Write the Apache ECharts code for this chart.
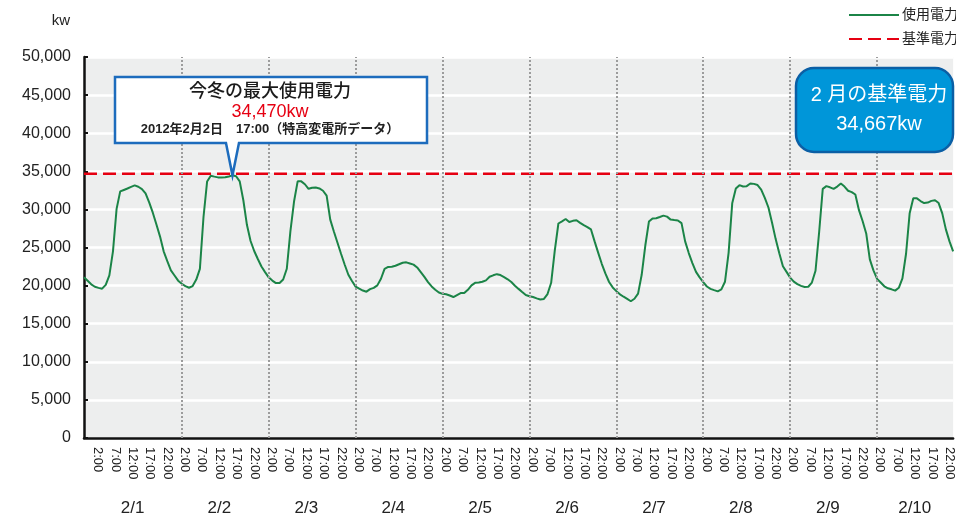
<!DOCTYPE html>
<html>
<head>
<meta charset="utf-8">
<script src="https://cdn.jsdelivr.net/npm/echarts@6/dist/echarts.min.js"></script>
<style>
  html, body { margin: 0; padding: 0; background: #ffffff; }
  #chart { width: 956px; height: 518px; }
</style>
</head>
<body>
<div id="chart"></div>
<script>
// ---- data -------------------------------------------------------------
// Hourly electricity use (kW), one value per hour starting 2/1 0:00
const usageKw = [
  21100, 20640, 20170, 19850, 19700, 19600, 20100, 21350, 24500, 30070, 32360, 32550,
  32740, 32960, 33150, 32970, 32670, 32100, 30930, 29570, 28020, 26430, 24500, 23200,
  22000, 21330, 20650, 20240, 19930, 19720, 19940, 20790, 22200, 29000, 33670, 34420,
  34300, 34200, 34200, 34210, 34320, 34470, 34350, 33680, 31200, 27950, 25850, 24540,
  23490, 22500, 21770, 21080, 20660, 20330, 20330, 20800, 22210, 27140, 31030, 33680,
  33680, 33300, 32700, 32850, 32880, 32750, 32450, 31800, 28660, 27100, 25620, 24140,
  22740, 21420, 20600, 19870, 19590, 19350, 19200, 19530, 19700, 20030, 20900, 22200,
  22450, 22470, 22600, 22800, 23000, 23050, 22900, 22750, 22380, 21770, 21140, 20450,
  19890, 19450, 19090, 18920, 18860, 18700, 18500, 18760, 19020, 19020, 19450, 20030,
  20360, 20420, 20500, 20690, 21160, 21350, 21500, 21380, 21120, 20830, 20470, 19990,
  19570, 19160, 18770, 18610, 18500, 18330, 18170, 18250, 18890, 20370, 24580, 28150,
  28440, 28740, 28350, 28500, 28570, 28230, 27930, 27680, 27370, 25800, 24300, 22830,
  21560, 20470, 19760, 19270, 18850, 18540, 18250, 17950, 18270, 18940, 21420, 25260,
  28400, 28820, 28840, 29000, 29180, 29050, 28660, 28600, 28550, 28200, 25800, 24270,
  22950, 21800, 21080, 20450, 19880, 19570, 19400, 19240, 19500, 20500, 24300, 30800,
  32730, 33180, 33000, 33050, 33400, 33350, 33200, 32600, 31500, 30250, 28250, 26100,
  24250, 22550, 21800, 21050, 20520, 20200, 19960, 19820, 19850, 20400, 21950, 27000,
  32700, 33050, 32900, 32700, 33000, 33400, 33000, 32450, 32270, 31950, 29900, 28480,
  26840, 23440, 22000, 20880, 20400, 19910, 19650, 19510, 19340, 19710, 20950, 24180,
  29500, 31460, 31450, 31100, 30830, 30900, 31120, 31200, 30830, 29480, 27380, 25800,
  24500
];

// February reference demand (kW)
const baseKw = 34667;

const dayLabels = ['2/1', '2/2', '2/3', '2/4', '2/5', '2/6', '2/7', '2/8', '2/9', '2/10'];
const hourLabels = ['2:00', '7:00', '12:00', '17:00', '22:00'];
const yTickValues = [0, 5000, 10000, 15000, 20000, 25000, 30000, 35000, 40000, 45000, 50000];

const seriesNames = ['使用電力', '基準電力'];
const peakTitle = '今冬の最大使用電力';
const peakNote = '2012年2月2日　17:00（特高変電所データ）';
const baseTitle = '2 月の基準電力';
const unitLabel = 'kw';

// ---- layout -----------------------------------------------------------
const HOURS_SHOWN = 240;            // x axis span in hours
const PX_PER_HOUR = 3.6525;
const DAY_SHIFT = 3;                // where each day's label block begins (hours)
const hourLabelPos = [0.8, 5.6, 10.4, 15.2, 20.0];
const dateLabelPos = 10.4;

const FONT = "'Liberation Sans', 'Noto Sans CJK JP', sans-serif";
const fmt = v => v.toLocaleString('en-US');

// positions (in hours) of the time-of-day labels and the date labels
const timeTickPos = [];
const timeTickText = {};
dayLabels.forEach((d, di) => {
  hourLabels.forEach((t, ti) => {
    const p = +(DAY_SHIFT + di * 24 + hourLabelPos[ti]).toFixed(2);
    timeTickPos.push(p);
    timeTickText[p.toFixed(2)] = t;
  });
});
const dateTickPos = [];
const dateTickText = {};
dayLabels.forEach((d, di) => {
  const p = +(DAY_SHIFT + di * 24 + dateLabelPos).toFixed(2);
  dateTickPos.push(p);
  dateTickText[p.toFixed(2)] = d;
});
// dotted separators between consecutive days
const dayBreaks = dayLabels.slice(1).map((d, i) => ({ xAxis: DAY_SHIFT + (i + 1) * 24 }));

const usageData = usageKw.map((v, h) => [h, v]);
const baseData = [[0, baseKw], [HOURS_SHOWN, baseKw]];

const chart = echarts.init(document.getElementById('chart'), null, { renderer: 'canvas' });

chart.setOption({
  animation: false,
  textStyle: { fontFamily: FONT },
  legend: {
    orient: 'vertical',
    left: 843,
    top: 3,
    itemWidth: 50,
    itemHeight: 14,
    itemGap: 10,
    itemStyle: { opacity: 0 },
    textStyle: { fontSize: 14, color: '#222', fontFamily: FONT, padding: [0, 0, 0, -2] },
    data: seriesNames
  },
  grid: {
    left: 84,
    top: 57,
    width: HOURS_SHOWN * PX_PER_HOUR,
    height: 381,
    show: true,
    backgroundColor: '#edeeee',
    borderWidth: 0
  },
  xAxis: [
    {
      type: 'value',
      min: 0,
      max: HOURS_SHOWN,
      position: 'bottom',
      axisLine: { show: true, onZero: false, lineStyle: { color: '#111', width: 2.5 } },
      axisTick: { show: false },
      splitLine: { show: false },
      axisLabel: {
        customValues: timeTickPos,
        rotate: -90,
        margin: 9,
        fontSize: 13,
        color: '#222',
        fontFamily: FONT,
        formatter: v => timeTickText[(+v).toFixed(2)] || ''
      }
    },
    {
      type: 'value',
      min: 0,
      max: HOURS_SHOWN,
      position: 'bottom',
      axisLine: { show: false },
      axisTick: { show: false },
      splitLine: { show: false },
      axisLabel: {
        customValues: dateTickPos,
        margin: 62,
        fontSize: 17,
        color: '#222',
        fontFamily: FONT,
        formatter: v => dateTickText[(+v).toFixed(2)] || ''
      }
    }
  ],
  yAxis: {
    type: 'value',
    min: yTickValues[0],
    max: yTickValues[yTickValues.length - 1],
    interval: yTickValues[1] - yTickValues[0],
    name: unitLabel,
    nameLocation: 'end',
    nameGap: 29,
    nameTextStyle: { fontSize: 15, color: '#222', align: 'right', padding: [0, 14, 0, 0], fontFamily: FONT },
    axisLine: { show: true, lineStyle: { color: '#111', width: 2.5 } },
    axisTick: { show: true, inside: true, length: 4, lineStyle: { color: '#111', width: 2 } },
    splitLine: { show: true, lineStyle: { color: '#ffffff', width: 2.5 } },
    axisLabel: { fontSize: 16, color: '#222', margin: 13, fontFamily: FONT, formatter: v => fmt(v) }
  },
  series: [
    {
      name: seriesNames[0],
      type: 'line',
      data: usageData,
      symbol: 'none',
      color: '#1b8447',
      lineStyle: { color: '#1b8447', width: 2 },
      z: 3,
      markLine: {
        silent: true,
        symbol: 'none',
        label: { show: false },
        lineStyle: { color: '#9c9c9c', width: 2, type: [2, 2] },
        data: dayBreaks
      }
    },
    {
      name: seriesNames[1],
      type: 'line',
      data: baseData,
      symbol: 'none',
      color: '#e60012',
      lineStyle: { color: '#e60012', width: 2.5, type: [13, 6] },
      z: 2
    }
  ]
});

// ---- callouts ---------------------------------------------------------
let peakIdx = 0;
usageKw.forEach((v, i) => { if (v > usageKw[peakIdx]) peakIdx = i; });
const peakKw = usageKw[peakIdx];
const tip = chart.convertToPixel({ seriesIndex: 0 }, [peakIdx, peakKw]);

const box = { l: 115, t: 77, r: 427, b: 143 };
const cx = (box.l + box.r) / 2 - 1;

chart.setOption({
  graphic: [
    {
      type: 'polygon',
      z: 100,
      shape: {
        points: [
          [box.l, box.t], [box.r, box.t], [box.r, box.b],
          [tip[0] + 6.5, box.b], [tip[0], tip[1]], [tip[0] - 6.5, box.b],
          [box.l, box.b]
        ]
      },
      style: { fill: '#ffffff', stroke: '#1d6cbd', lineWidth: 2.5, lineJoin: 'miter' }
    },
    {
      type: 'text', z: 101,
      style: {
        text: peakTitle, x: cx, y: 92, align: 'center', verticalAlign: 'middle',
        fontSize: 18, fontWeight: 500, fontFamily: FONT, fill: '#1a1a1a'
      }
    },
    {
      type: 'text', z: 101,
      style: {
        text: fmt(peakKw) + 'kw', x: cx, y: 112, align: 'center', verticalAlign: 'middle',
        fontSize: 18, fontFamily: FONT, fill: '#e60012'
      }
    },
    {
      type: 'text', z: 101,
      style: {
        text: peakNote, x: cx, y: 129.5, align: 'center', verticalAlign: 'middle',
        fontSize: 13, fontWeight: 'bold', fontFamily: FONT, fill: '#222'
      }
    },
    {
      type: 'rect',
      z: 100,
      shape: { x: 796, y: 68, width: 157, height: 84, r: 18 },
      style: { fill: '#0096d9', stroke: '#0b5fa5', lineWidth: 2.5 }
    },
    {
      type: 'text', z: 101,
      style: {
        text: baseTitle, x: 879, y: 95, align: 'center', verticalAlign: 'middle',
        fontSize: 20, fontFamily: FONT, fill: '#ffffff'
      }
    },
    {
      type: 'text', z: 101,
      style: {
        text: fmt(baseKw) + 'kw', x: 879, y: 124.5, align: 'center', verticalAlign: 'middle',
        fontSize: 20, fontFamily: FONT, fill: '#ffffff'
      }
    }
  ]
});
</script>
</body>
</html>
